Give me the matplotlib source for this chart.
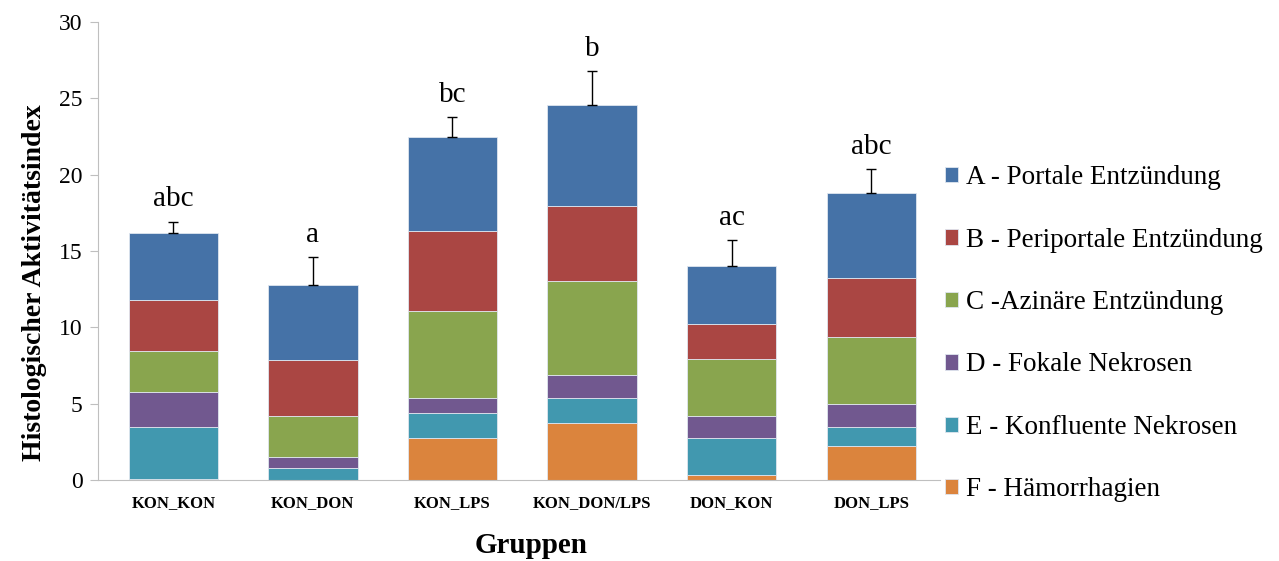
import matplotlib
matplotlib.use("Agg")
import matplotlib.pyplot as plt
import numpy as np

groups = ["KON_KON", "KON_DON", "KON_LPS", "KON_DON/LPS", "DON_KON", "DON_LPS"]
series_names = ["A - Portale Entzündung", "B - Periportale Entzündung", "C -Azinäre Entzündung",
                "D - Fokale Nekrosen", "E - Konfluente Nekrosen", "F - Hämorrhagien"]
# stacked values (bottom to top: F, E, D, C, B, A)
F = [0.07, 0.0, 2.73, 3.74, 0.31, 2.21]
E = [3.41, 0.78, 1.64, 1.64, 2.42, 1.29]
D = [2.30, 0.75, 0.99, 1.51, 1.48, 1.51]
C = [2.66, 2.68, 5.69, 6.14, 3.69, 4.35]
B = [3.36, 3.62, 5.24, 4.91, 2.30, 3.85]
A = [4.40, 4.94, 6.16, 6.61, 3.84, 5.60]
err = [0.73, 1.81, 1.30, 2.21, 1.67, 1.53]
letters = ["abc", "a", "bc", "b", "ac", "abc"]

colors = {"A": "#4572A7", "B": "#AA4643", "C": "#89A54E", "D": "#71588F", "E": "#4198AF", "F": "#DB843D"}

fig = plt.figure(figsize=(12.79, 5.61), dpi=100)
ax = fig.add_axes([0.0766, 0.1444, 0.658, 0.8164])
serif = ["Liberation Serif", "DejaVu Serif"]

x = np.arange(len(groups))
w = 0.64
stack = [("F", F), ("E", E), ("D", D), ("C", C), ("B", B), ("A", A)]
bottom = np.zeros(len(groups))
handles = {}
for key, vals in stack:
    h = ax.bar(x, vals, w, bottom=bottom, color=colors[key], edgecolor="#dfe6ef", linewidth=0.6)
    handles[key] = h
    bottom = bottom + np.array(vals)
totals = bottom
ax.errorbar(x, totals, yerr=[np.zeros(len(groups)), err], fmt="none", ecolor="black",
            elinewidth=1.0, capsize=3.5, capthick=1.0)
for xi, t, e, lab in zip(x, totals, err, letters):
    ax.text(xi, t + e + 1.0, lab, ha="center", va="baseline", fontsize=21, family=serif)

ax.set_xlim(-0.54, 5.49)
ax.set_ylim(0, 30)
ax.set_yticks(range(0, 31, 5))
ax.set_xticks(x)
ax.set_xticklabels(groups, fontsize=12, fontweight="bold", family=serif)
for lab in ax.get_yticklabels():
    lab.set_family(serif)
    lab.set_fontsize(17)
ax.tick_params(axis="x", length=0, pad=11)
ax.tick_params(axis="y", direction="out", length=6, color="#bfbfbf", pad=5)
ax.spines["top"].set_visible(False)
ax.spines["right"].set_visible(False)
ax.spines["left"].set_color("#bfbfbf")
ax.spines["bottom"].set_color("#bfbfbf")
ax.set_ylabel("Histologischer Aktivitätsindex", fontsize=20, fontweight="bold", family=serif)
ax.yaxis.set_label_coords(-0.061, 0.43)
ax.set_xlabel("Gruppen", fontsize=21, fontweight="bold", family=serif)
ax.xaxis.set_label_coords(0.515, -0.113)

leg_keys = ["A", "B", "C", "D", "E", "F"]
leg = fig.legend([handles[k] for k in leg_keys], series_names, loc="center left",
                 bbox_to_anchor=(0.728, 0.405), frameon=False,
                 prop={"family": serif, "size": 19.5}, handlelength=0.5, handleheight=0.5,
                 handletextpad=0.3, labelspacing=1.38, borderpad=0)

fig.savefig("out.png", dpi=100)
